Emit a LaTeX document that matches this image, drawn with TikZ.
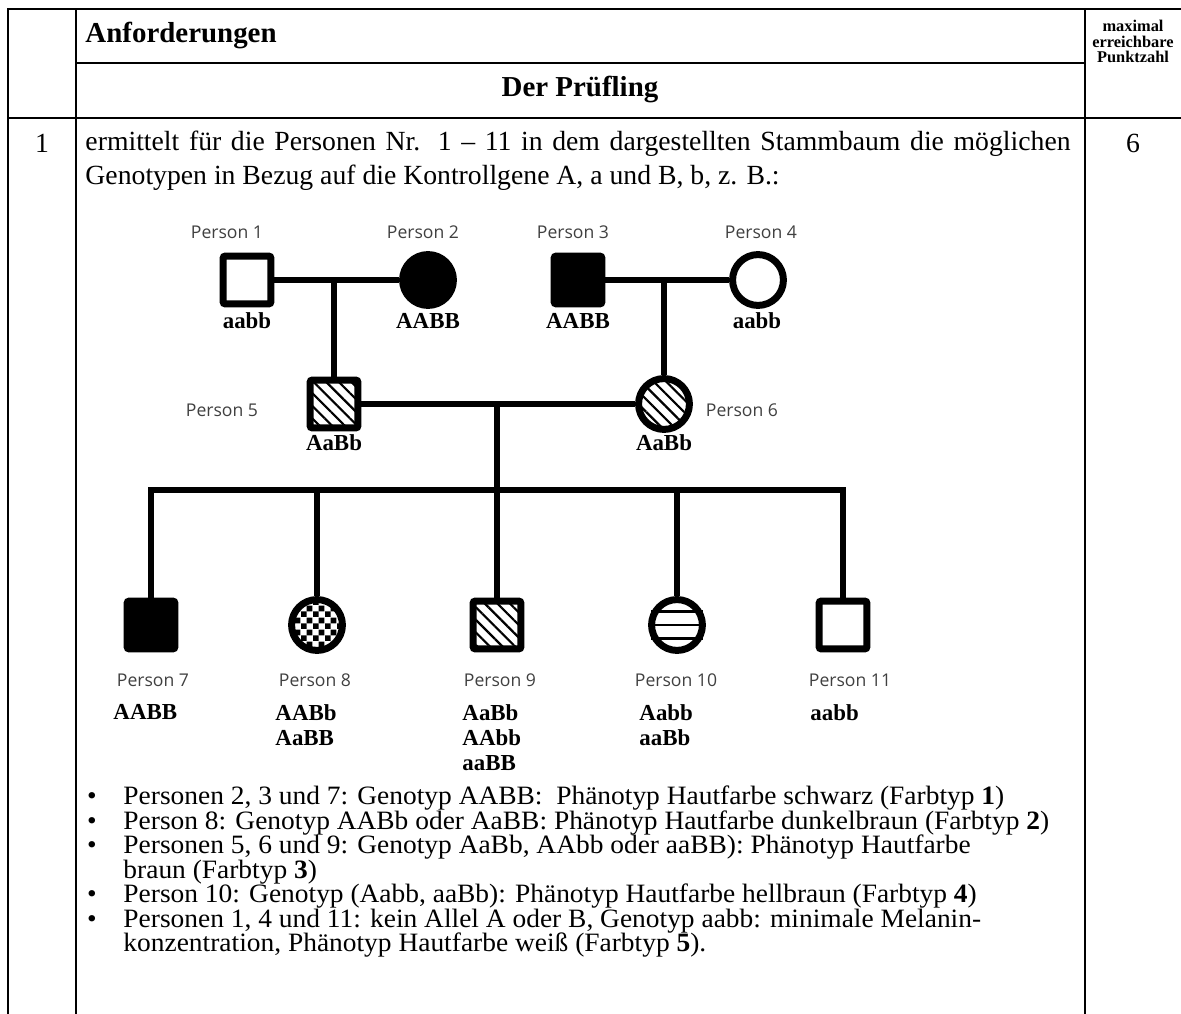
\documentclass[tikz,border=0pt]{standalone}
\usepackage{fontspec}
\setmainfont{Liberation Serif}
\newfontfamily\personfont{Open Sans}
\newfontfamily\itemfont[FakeStretch=1.035]{Liberation Serif}
\usetikzlibrary{patterns,patterns.meta}

\tikzdeclarepattern{
  name=checker,
  type=uncolored,
  bottom left={(0pt,0pt)},
  top right={(5pt,5pt)},
  tile size={(5pt,5pt)},
  code={
    \fill (0pt,0pt) rectangle (2.5pt,2.5pt);
    \fill (2.5pt,2.5pt) rectangle (5pt,5pt);
  }
}

\tikzset{
  tabline/.style={line width=0.8pt},
  txt/.style={anchor=base west,inner sep=0pt,font=\fontsize{11.5}{13}\selectfont},
  item/.style={anchor=base west,inner sep=0pt,font=\itemfont\fontsize{11}{12}\selectfont},
  male/.style={draw,line width=2.9pt,rounded corners=1pt,minimum size=19.9pt,inner sep=0pt},
  female/.style={draw,circle,line width=2.9pt,minimum size=21.1pt,inner sep=0pt},
  hatch/.style={pattern={Lines[angle=-45,distance=3.7pt,line width=0.9pt]}},
  pedline/.style={line width=2.9pt},
  plabel/.style={inner sep=0pt,text=black!75,font=\personfont\fontsize{7.3}{9}\selectfont},
  geno/.style={inner sep=0pt,font=\fontsize{9.5}{10.4}\selectfont\bfseries},
}

\begin{document}
\begin{tikzpicture}[x=0.415pt,y=-0.415pt]
	\useasboundingbox (0,0) rectangle (1181,1014);
	
	% Tabelle
	\draw[tabline] (8,1014) -- (8,9) -- (1181,9);
	\draw[tabline] (76,9) -- (76,1014);
	\draw[tabline] (1085,9) -- (1085,1014);
	\draw[tabline] (76,63) -- (1085,63);
	\draw[tabline] (8,118) -- (1181,118);
	
	\node[anchor=base west,inner sep=0pt,font=\fontsize{12}{14}\selectfont\bfseries] (anf) at (85,43) {Anforderungen};
	\node[anchor=base,inner sep=0pt,font=\fontsize{12}{14}\selectfont\bfseries] (pruef) at (580,97) {Der Prüfling};
	\node[anchor=north,inner sep=0pt,align=center,font=\fontsize{6.8}{6.4}\selectfont\bfseries] (punkte) at (1133,20) {maximal\\erreichbare\\Punktzahl};
	
	\node[txt,anchor=base] (nr) at (42,153) {1};
	\node[txt,anchor=base] (pkt) at (1133,153) {6};
	\node[txt] (z1) at (85,151) {\makebox[408.8pt][s]{ermittelt für die Personen Nr. 1 – 11 in dem dargestellten Stammbaum die möglichen}};
	\node[txt] (z2) at (85,185) {Genotypen in Bezug auf die Kontrollgene A, a und B, b, z. B.:};
	
	% Stammbaum
	\node[male] (p1) at (247,280) {};
	\node[female,fill=black] (p2) at (428,280) {};
	\node[male,fill=black] (p3) at (578,280) {};
	\node[female] (p4) at (758,280) {};
	\node[male,hatch] (p5) at (334,404) {};
	\node[female,hatch] (p6) at (664,404) {};
	
	\node[male,fill=black] (p7) at (151,625) {};
	\node[female,pattern=checker] (p8) at (317,625) {};
	\node[male,hatch] (p9) at (497,625) {};
	\node[female] (p10) at (677,625) {};
	\node[male] (p11) at (843,625) {};
	\foreach \a/\b in {152/28,180/0,208/-28}
	\draw[line width=1pt] (p10.\a) -- (p10.\b);
	
	\draw[pedline] (p1) -- (p2);
	\draw[pedline] (p3) -- (p4);
	\draw[pedline] (p5) -- (p6);
	\draw[pedline] (p5.north) -- (p5 |- p1);
	\draw[pedline] (p6.north) -- (p6 |- p3);
	
	\coordinate (sib) at (497,490);
	\draw[pedline] (p9 |- p5) -- (sib);
	\draw[pedline,line cap=rect] (p7 |- sib) -- (p11 |- sib);
	\foreach \k in {7,...,11}
	\draw[pedline] (p\k.north) -- (p\k |- sib);
	
	% Beschriftung
	\node[plabel] (l1) at (227,232) {Person 1};
	\node[plabel] (l2) at (423,232) {Person 2};
	\node[plabel] (l3) at (573,232) {Person 3};
	\node[plabel] (l4) at (761,232) {Person 4};
	\node[plabel] (l5) at (222,410) {Person 5};
	\node[plabel] (l6) at (742,410) {Person 6};
	\node[plabel] (l7) at (153,680) {Person 7};
	\node[plabel] (l8) at (315,680) {Person 8};
	\node[plabel] (l9) at (500,680) {Person 9};
	\node[plabel] (l10) at (676,680) {Person 10};
	\node[plabel] (l11) at (850,680) {Person 11};
	
	\node[geno] (g1) at (247,321) {aabb};
	\node[geno] (g2) at (428,321) {AABB};
	\node[geno] (g3) at (578,321) {AABB};
	\node[geno] (g4) at (757,321) {aabb};
	\node[geno] (g5) at (334,443) {AaBb};
	\node[geno] (g6) at (664,443) {AaBb};
	\node[geno,anchor=north west,align=left] (g7) at (113,704) {AABB};
	\node[geno,anchor=north west,align=left] (g8) at (275,704) {AABb\\AaBB};
	\node[geno,anchor=north west,align=left] (g9) at (462,704) {AaBb\\AAbb\\aaBB};
	\node[geno,anchor=north west,align=left] (g10) at (639,704) {Aabb\\aaBb};
	\node[geno,anchor=north west,align=left] (g11) at (810,704) {aabb};
	
	% Liste
	\foreach \y in {804,829,853,902,927}
	\node[item,anchor=base] at (92,\y) {•};
	\node[item] (b1) at (123,804) {Personen 2, 3 und 7: Genotyp AABB:\ \ Phänotyp Hautfarbe schwarz (Farbtyp \textbf{1})};
	\node[item] (b2) at (123,829) {Person 8: Genotyp AABb oder AaBB: Phänotyp Hautfarbe dunkelbraun (Farbtyp \textbf{2})};
	\node[item] (b3) at (123,853) {Personen 5, 6 und 9: Genotyp AaBb, AAbb oder aaBB): Phänotyp Hautfarbe};
	\node[item] (b3b) at (123,878) {braun (Farbtyp \textbf{3})};
	\node[item] (b4) at (123,902) {Person 10: Genotyp (Aabb, aaBb): Phänotyp Hautfarbe hellbraun (Farbtyp \textbf{4})};
	\node[item] (b5) at (123,927) {Personen 1, 4 und 11: kein Allel A oder B, Genotyp aabb: minimale Melanin-};
	\node[item] (b5b) at (123,951) {konzentration, Phänotyp Hautfarbe weiß (Farbtyp \textbf{5}).};
\end{tikzpicture}
\end{document}
